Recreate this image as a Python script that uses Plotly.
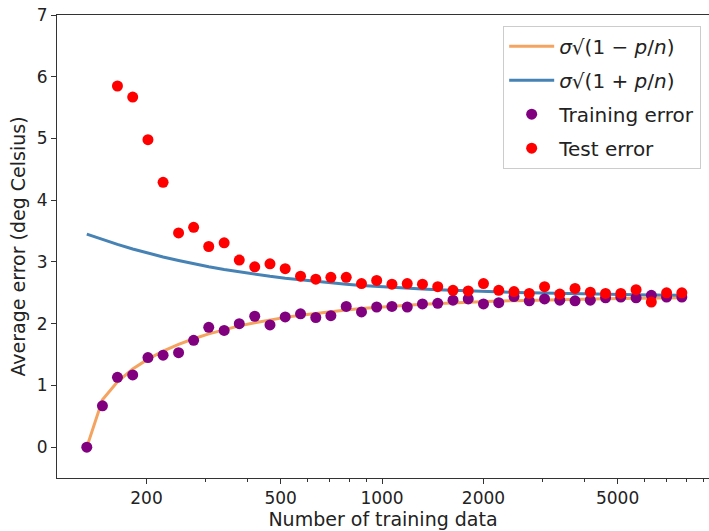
import plotly.graph_objects as go
import math

# Number of training data (log-spaced sample sizes)
n_train = [133, 148, 164, 182, 202, 224, 249, 276, 306, 340,
           377, 419, 465, 516, 573, 636, 705, 783, 869, 964,
           1070, 1188, 1318, 1463, 1624, 1802, 2000, 2220, 2464, 2735,
           3036, 3369, 3739, 4150, 4606, 5112, 5674, 6297, 6989, 7757]

# sigma*sqrt(1 - p/n)
curve_minus = [0.000, 0.767, 1.059, 1.265, 1.425, 1.555, 1.664, 1.756, 1.835, 1.904,
               1.964, 2.016, 2.062, 2.102, 2.138, 2.170, 2.198, 2.223, 2.245, 2.266,
               2.283, 2.299, 2.314, 2.326, 2.338, 2.348, 2.357, 2.366, 2.373, 2.380,
               2.386, 2.391, 2.396, 2.401, 2.404, 2.408, 2.411, 2.414, 2.417, 2.419]

# sigma*sqrt(1 + p/n)
curve_plus = [3.451, 3.364, 3.284, 3.210, 3.143, 3.080, 3.023, 2.970, 2.922, 2.878,
              2.838, 2.801, 2.767, 2.736, 2.709, 2.683, 2.660, 2.639, 2.620, 2.603,
              2.587, 2.573, 2.560, 2.549, 2.538, 2.528, 2.520, 2.512, 2.505, 2.499,
              2.493, 2.488, 2.483, 2.479, 2.475, 2.471, 2.468, 2.466, 2.463, 2.461]

training_error = [0.00, 0.67, 1.13, 1.17, 1.45, 1.49, 1.53, 1.73, 1.94, 1.89,
                  2.00, 2.12, 1.98, 2.11, 2.16, 2.10, 2.13, 2.28, 2.19, 2.27,
                  2.28, 2.27, 2.32, 2.33, 2.38, 2.40, 2.32, 2.34, 2.44, 2.37,
                  2.40, 2.38, 2.37, 2.38, 2.42, 2.43, 2.42, 2.46, 2.43, 2.43]

test_error = [None, None, 5.85, 5.67, 4.98, 4.29, 3.47, 3.56, 3.25, 3.31,
              3.03, 2.92, 2.97, 2.89, 2.77, 2.72, 2.75, 2.75, 2.65, 2.70,
              2.64, 2.65, 2.64, 2.60, 2.54, 2.53, 2.65, 2.54, 2.52, 2.49,
              2.60, 2.48, 2.57, 2.51, 2.49, 2.49, 2.55, 2.35, 2.50, 2.50]

x_ticks = [200, 500, 1000, 2000, 5000]
x_minor = [300, 400, 600, 700, 800, 900, 3000, 4000, 6000, 7000, 8000, 9000]
y_ticks = [0, 1, 2, 3, 4, 5, 6, 7]

FONT = "DejaVu Sans"
lbl_minus = "<i>σ</i>√(1 − <i>p</i>/<i>n</i>)"
lbl_plus = "<i>σ</i>√(1 + <i>p</i>/<i>n</i>)"

fig = go.Figure()
fig.add_trace(go.Scatter(x=n_train, y=curve_minus, mode="lines", name=lbl_minus,
                         line=dict(color="#F4A460", width=3), legendgroup="a"))
fig.add_trace(go.Scatter(x=n_train, y=curve_plus, mode="lines", name=lbl_plus,
                         line=dict(color="#4682B4", width=3), legendgroup="b"))
fig.add_trace(go.Scatter(x=n_train, y=training_error, mode="markers", name="Training error",
                         marker=dict(color="purple", size=11), legendgroup="c"))
fig.add_trace(go.Scatter(x=n_train, y=test_error, mode="markers", name="Test error",
                         marker=dict(color="red", size=11), legendgroup="d"))

fig.update_layout(
    width=709, height=531,
    margin=dict(l=57, r=0, t=15, b=53),
    plot_bgcolor="white", paper_bgcolor="white",
    font=dict(family=FONT, size=17, color="#222"),
    legend=dict(x=0.988, y=0.977, xanchor="right", yanchor="top",
                bordercolor="#cccccc", borderwidth=1, bgcolor="rgba(255,255,255,0.8)",
                font=dict(size=20, family=FONT), tracegroupgap=5, itemwidth=45),
    showlegend=True,
)
fig.update_xaxes(type="log", range=[math.log10(108.5), math.log10(9338)],
                 tickvals=x_ticks, ticktext=[str(v) for v in x_ticks],
                 ticks="outside", ticklen=5, tickcolor="#333", showgrid=False,
                 showline=True, linecolor="#333", linewidth=1, mirror=True,
                 tickfont=dict(size=17), zeroline=False, automargin=False,
                 minor=dict(tickvals=x_minor, ticks="outside", ticklen=3, tickcolor="#333", showgrid=False),
                 title=dict(text="Number of training data", font=dict(size=19), standoff=2))
fig.update_yaxes(range=[-0.5, 7], tickvals=y_ticks, ticks="outside", ticklen=5, tickcolor="#333",
                 showgrid=False, zeroline=False, showline=True, linecolor="#333", linewidth=1,
                 tickfont=dict(size=17), automargin=False,
                 title=dict(text="Average error (deg Celsius)", font=dict(size=19), standoff=6))

fig.write_html("out.html")
